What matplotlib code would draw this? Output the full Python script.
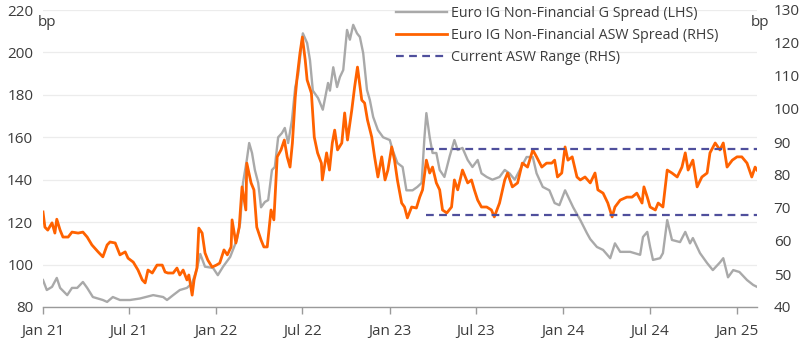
import matplotlib
matplotlib.use("Agg")
import matplotlib.pyplot as plt
import pandas as pd

# Euro IG Non-Financial G spread (bp, left axis)
g_dates = [
    "2021-01-01", "2021-01-09", "2021-01-20", "2021-01-30", "2021-02-06", "2021-02-21",
    "2021-03-03", "2021-03-14", "2021-03-26", "2021-04-04", "2021-04-16", "2021-05-07",
    "2021-05-16", "2021-05-28", "2021-06-12", "2021-07-03", "2021-07-24", "2021-08-21",
    "2021-09-11", "2021-09-19", "2021-10-02", "2021-10-16", "2021-10-31", "2021-11-11",
    "2021-11-21", "2021-11-28", "2021-12-08", "2021-12-25", "2022-01-04", "2022-01-15",
    "2022-01-30", "2022-02-13", "2022-02-20", "2022-02-26", "2022-03-06", "2022-03-11",
    "2022-03-17", "2022-03-23", "2022-03-30", "2022-04-05", "2022-04-13", "2022-04-20",
    "2022-04-28", "2022-05-04", "2022-05-11", "2022-05-19", "2022-05-25", "2022-06-01",
    "2022-06-09", "2022-06-16", "2022-06-22", "2022-07-02", "2022-07-11", "2022-07-17",
    "2022-07-23", "2022-08-03", "2022-08-13", "2022-08-24", "2022-08-28", "2022-09-04",
    "2022-09-12", "2022-09-18", "2022-09-25", "2022-10-03", "2022-10-09", "2022-10-16",
    "2022-10-24", "2022-10-30", "2022-11-06", "2022-11-14", "2022-11-20", "2022-11-27",
    "2022-12-07", "2022-12-18", "2023-01-01", "2023-01-07", "2023-01-17", "2023-01-28",
    "2023-02-05", "2023-02-18", "2023-02-28", "2023-03-09", "2023-03-15", "2023-03-19",
    "2023-03-26", "2023-04-01", "2023-04-09", "2023-04-16", "2023-04-26", "2023-05-07",
    "2023-05-17", "2023-05-24", "2023-06-03", "2023-06-14", "2023-06-24", "2023-07-05",
    "2023-07-13", "2023-07-24", "2023-08-05", "2023-08-20", "2023-08-31", "2023-09-10",
    "2023-09-21", "2023-10-05", "2023-10-16", "2023-10-29", "2023-11-06", "2023-11-12",
    "2023-11-19", "2023-12-03", "2023-12-14", "2023-12-24", "2024-01-05", "2024-01-22",
    "2024-02-06", "2024-02-20", "2024-02-27", "2024-03-12", "2024-03-25", "2024-04-09",
    "2024-04-19", "2024-04-30", "2024-05-21", "2024-06-11", "2024-06-17", "2024-06-26",
    "2024-07-02", "2024-07-08", "2024-07-23", "2024-07-29", "2024-08-07", "2024-08-17",
    "2024-09-03", "2024-09-14", "2024-09-24", "2024-09-30", "2024-10-15", "2024-10-30",
    "2024-11-11", "2024-11-26", "2024-12-03", "2024-12-13", "2024-12-24", "2025-01-06",
    "2025-01-22", "2025-02-04", "2025-02-12",
]
g_spread = [
    92.7, 88.0, 89.5, 93.7, 89.0, 85.6,
    89.0, 89.0, 91.8, 89.0, 84.7, 83.3,
    82.4, 84.7, 83.3, 83.3, 84.0, 85.6,
    84.7, 83.3, 85.6, 88.0, 89.0, 91.3,
    98.0, 105.0, 99.0, 98.4, 95.0, 99.0,
    103.6, 111.6, 119.6, 138.5, 149.3, 157.3,
    152.6, 144.6, 138.5, 127.0, 129.5, 130.4,
    144.6, 146.0, 160.0, 162.0, 164.4, 157.3,
    168.0, 183.7, 189.4, 209.0, 204.4, 196.4,
    182.0, 178.5, 173.0, 185.6, 182.0, 193.0,
    183.7, 188.4, 191.7, 210.6, 206.0, 213.0,
    209.0, 207.3, 199.7, 182.3, 177.6, 169.6,
    163.4, 160.0, 158.7, 154.0, 147.9, 146.0,
    135.0, 135.0, 136.6, 138.5, 160.0, 171.4,
    160.0, 152.6, 152.6, 144.6, 141.3, 151.0,
    158.7, 154.0, 155.0, 149.3, 146.0, 149.3,
    143.0, 141.3, 140.0, 141.3, 144.6, 143.0,
    140.0, 146.0, 150.7, 150.7, 143.0, 140.0,
    136.6, 135.0, 129.0, 128.0, 135.0, 127.0,
    121.0, 114.8, 112.0, 108.3, 106.9, 103.0,
    110.0, 106.0, 106.0, 104.6, 113.0, 115.4,
    108.3, 102.2, 103.0, 105.4, 121.0, 111.6,
    110.6, 115.4, 110.0, 112.5, 105.4, 100.7,
    97.4, 101.0, 103.0, 94.0, 97.4, 96.5,
    92.7, 90.4, 89.5,
]

# Euro IG Non-Financial ASW spread (bp, right axis)
asw_dates = [
    "2021-01-01", "2021-01-05", "2021-01-11", "2021-01-20", "2021-01-26", "2021-01-30",
    "2021-02-06", "2021-02-12", "2021-02-23", "2021-03-03", "2021-03-16", "2021-03-26",
    "2021-04-04", "2021-04-14", "2021-04-27", "2021-05-07", "2021-05-16", "2021-05-22",
    "2021-06-02", "2021-06-12", "2021-06-23", "2021-06-29", "2021-07-10", "2021-07-20",
    "2021-07-29", "2021-08-04", "2021-08-10", "2021-08-19", "2021-08-29", "2021-09-09",
    "2021-09-15", "2021-09-21", "2021-10-02", "2021-10-10", "2021-10-16", "2021-10-23",
    "2021-10-31", "2021-11-04", "2021-11-11", "2021-11-15", "2021-11-21", "2021-11-25",
    "2021-12-02", "2021-12-08", "2021-12-14", "2021-12-23", "2022-01-01", "2022-01-08",
    "2022-01-17", "2022-01-24", "2022-02-01", "2022-02-03", "2022-02-11", "2022-02-18",
    "2022-02-24", "2022-03-04", "2022-03-06", "2022-03-15", "2022-03-21", "2022-03-27",
    "2022-04-05", "2022-04-11", "2022-04-18", "2022-04-26", "2022-05-02", "2022-05-09",
    "2022-05-17", "2022-05-24", "2022-05-30", "2022-06-05", "2022-06-10", "2022-06-16",
    "2022-06-20", "2022-06-26", "2022-07-01", "2022-07-07", "2022-07-11", "2022-07-20",
    "2022-07-26", "2022-08-02", "2022-08-10", "2022-08-12", "2022-08-21", "2022-08-27",
    "2022-09-02", "2022-09-07", "2022-09-13", "2022-09-22", "2022-09-28", "2022-10-04",
    "2022-10-13", "2022-10-19", "2022-10-25", "2022-11-03", "2022-11-09", "2022-11-15",
    "2022-11-24", "2022-11-30", "2022-12-07", "2022-12-15", "2022-12-22", "2022-12-28",
    "2023-01-05", "2023-01-11", "2023-01-17", "2023-01-26", "2023-02-01", "2023-02-07",
    "2023-02-16", "2023-02-26", "2023-03-05", "2023-03-11", "2023-03-19", "2023-03-26",
    "2023-04-01", "2023-04-09", "2023-04-16", "2023-04-22", "2023-05-01", "2023-05-11",
    "2023-05-17", "2023-05-24", "2023-06-03", "2023-06-14", "2023-06-22", "2023-06-28",
    "2023-07-05", "2023-07-13", "2023-07-24", "2023-08-03", "2023-08-09", "2023-08-20",
    "2023-08-31", "2023-09-06", "2023-09-16", "2023-09-27", "2023-10-07", "2023-10-18",
    "2023-10-29", "2023-11-06", "2023-11-17", "2023-11-27", "2023-12-08", "2023-12-14",
    "2023-12-20", "2023-12-29", "2024-01-05", "2024-01-11", "2024-01-20", "2024-01-30",
    "2024-02-06", "2024-02-16", "2024-02-27", "2024-03-08", "2024-03-14", "2024-03-25",
    "2024-04-04", "2024-04-13", "2024-04-19", "2024-04-30", "2024-05-14", "2024-05-25",
    "2024-06-04", "2024-06-15", "2024-06-19", "2024-06-26", "2024-07-02", "2024-07-13",
    "2024-07-19", "2024-07-29", "2024-08-07", "2024-08-17", "2024-08-28", "2024-09-07",
    "2024-09-14", "2024-09-20", "2024-09-30", "2024-10-09", "2024-10-19", "2024-10-30",
    "2024-11-05", "2024-11-16", "2024-11-26", "2024-12-03", "2024-12-11", "2024-12-22",
    "2025-01-01", "2025-01-11", "2025-01-22", "2025-02-01", "2025-02-08", "2025-02-12",
]
asw_spread = [
    68.8, 64.2, 63.3, 65.5, 62.4, 66.6,
    63.3, 61.2, 61.2, 62.7, 62.4, 62.7,
    61.2, 58.8, 56.7, 55.2, 58.8, 59.7,
    59.4, 55.8, 56.7, 54.8, 53.6, 51.2,
    48.2, 47.3, 51.2, 50.3, 52.7, 52.7,
    50.6, 50.3, 50.3, 51.8, 49.7, 51.2,
    48.2, 49.7, 43.6, 48.2, 51.8, 63.9,
    62.4, 56.4, 54.2, 52.1, 52.7, 53.3,
    57.3, 55.8, 58.2, 66.4, 59.4, 64.2,
    76.4, 69.4, 83.6, 77.6, 75.5, 64.2,
    60.3, 58.2, 58.2, 69.4, 66.4, 85.5,
    87.6, 90.6, 85.5, 82.4, 89.7, 103.6,
    109.7, 117.0, 121.8, 114.8, 108.8, 104.8,
    91.5, 86.7, 83.6, 78.5, 86.7, 81.5,
    89.7, 93.6, 87.6, 89.7, 98.8, 90.6,
    99.7, 106.7, 112.7, 102.7, 101.8, 96.7,
    91.5, 85.5, 79.4, 85.5, 78.5, 81.5,
    88.5, 84.5, 78.5, 71.5, 70.3, 67.0,
    70.3, 70.0, 73.3, 75.5, 84.5, 80.6,
    82.4, 77.6, 75.5, 69.4, 68.5, 70.3,
    78.5, 75.5, 81.5, 77.6, 78.5, 75.5,
    72.4, 70.3, 70.3, 69.4, 67.3, 71.5,
    78.5, 80.6, 76.4, 77.6, 83.6, 82.4,
    87.6, 85.5, 82.4, 83.6, 83.6, 84.5,
    79.4, 80.6, 88.5, 84.5, 85.5, 79.4,
    78.5, 79.4, 77.6, 80.6, 75.5, 74.5,
    71.5, 67.3, 70.3, 72.4, 73.3, 73.3,
    74.5, 71.5, 76.4, 73.3, 70.3, 69.4,
    71.5, 70.3, 81.5, 80.6, 79.4, 82.4,
    86.7, 81.5, 84.5, 76.4, 79.4, 80.6,
    86.7, 89.7, 87.6, 89.7, 82.4, 84.5,
    85.5, 85.5, 83.6, 79.4, 82.4, 81.5,
]

# Current ASW trading range (bp, right axis)
range_start = "2023-03-19"
range_end = "2025-02-12"
range_high = 88
range_low = 68

left_ticks = [80, 100, 120, 140, 160, 180, 200, 220]
right_ticks = [40, 50, 60, 70, 80, 90, 100, 110, 120, 130]
x_ticks = ["2021-01-01", "2021-07-01", "2022-01-01", "2022-07-01", "2023-01-01",
           "2023-07-01", "2024-01-01", "2024-07-01", "2025-01-01"]
x_labels = ["Jan 21", "Jul 21", "Jan 22", "Jul 22", "Jan 23",
            "Jul 23", "Jan 24", "Jul 24", "Jan 25"]

series_labels = ["Euro IG Non-Financial G Spread (LHS)",
                 "Euro IG Non-Financial ASW Spread (RHS)",
                 "Current ASW Range (RHS)"]

GREY = "#a9a9a9"
ORANGE = "#ff6200"
NAVY = "#4f4f9c"
TEXT = "#3c3c3c"
FS = 11
LEG_FS = 10.3

plt.rcParams["font.family"] = ["Open Sans", "DejaVu Sans"]
plt.rcParams["font.size"] = FS

fig = plt.figure(figsize=(8.0, 3.41), dpi=100)
ax = fig.add_axes([43 / 800, 34 / 341, 714 / 800, 297 / 341])
ax2 = ax.twinx()

gd = pd.to_datetime(g_dates)
ad = pd.to_datetime(asw_dates)

l1, = ax.plot(gd, g_spread, color=GREY, lw=1.7, solid_joinstyle="round")
l2, = ax2.plot(ad, asw_spread, color=ORANGE, lw=2.0, solid_joinstyle="round")
rng = pd.to_datetime([range_start, range_end])
dash = (0, (3.5, 2.4))
l3, = ax2.plot(rng, [range_high, range_high], color=NAVY, lw=1.6, linestyle=dash)
ax2.plot(rng, [range_low, range_low], color=NAVY, lw=1.6, linestyle=dash)

ax.set_xlim(pd.Timestamp("2021-01-01"), pd.Timestamp("2025-02-12"))
ax.set_ylim(80, 220)
ax2.set_ylim(40, 130)

ax.set_yticks(left_ticks)
ax2.set_yticks(right_ticks)
ax.set_xticks(pd.to_datetime(x_ticks))
ax.set_xticklabels(x_labels)

ax.grid(axis="y", color="#ececec", lw=0.9)
ax.set_axisbelow(True)

for a in (ax, ax2):
    for side in ("top", "left", "right"):
        a.spines[side].set_visible(False)
ax.spines["bottom"].set_color("#9a9a9a")
ax.spines["bottom"].set_linewidth(1.0)
ax2.spines["bottom"].set_visible(False)

ax.tick_params(axis="x", colors=TEXT, length=5, width=1.0, color="#9a9a9a",
               pad=7, labelsize=FS)
ax.tick_params(axis="y", colors=TEXT, length=0, pad=7, labelsize=FS)
ax2.tick_params(axis="y", colors=TEXT, length=0, pad=12, labelsize=FS)

ax.text(38 / 800, 1 - 22 / 341, "bp", transform=fig.transFigure, color=TEXT,
        fontsize=FS, ha="left", va="center")
ax.text(751 / 800, 1 - 23 / 341, "bp", transform=fig.transFigure, color=TEXT,
        fontsize=FS, ha="left", va="center")

fig.legend([l1, l2, l3], series_labels, loc="upper left",
           bbox_to_anchor=(393 / 800, 1 - 3 / 341), frameon=False,
           handlelength=3.6, handletextpad=0.25, labelspacing=0.48,
           borderaxespad=0, borderpad=0.2, labelcolor=TEXT, fontsize=LEG_FS)

fig.savefig("out.png", dpi=100)
